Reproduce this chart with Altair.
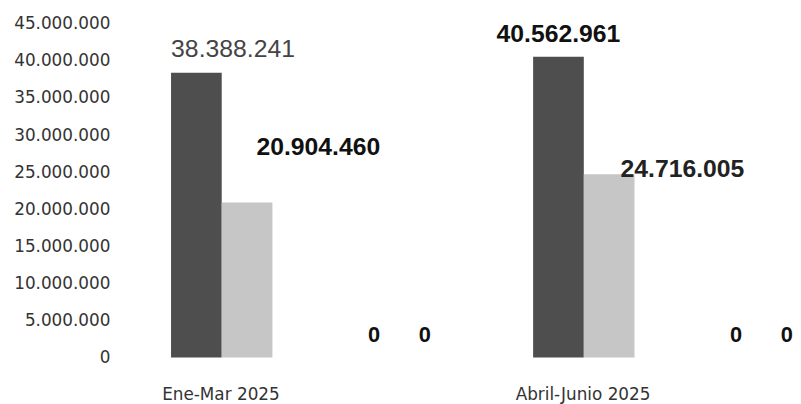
import altair as alt
import pandas as pd

periodos = ["Ene-Mar 2025", "Abril-Junio 2025"]
series = ["Serie 1", "Serie 2", "Serie 3", "Serie 4"]
valores_ene_mar = [38388241, 20904460, 0, 0]
valores_abr_jun = [40562961, 24716005, 0, 0]
y_ticks = [0, 5000000, 10000000, 15000000, 20000000, 25000000,
           30000000, 35000000, 40000000, 45000000]

rows = []
for p, vals in zip(periodos, [valores_ene_mar, valores_abr_jun]):
    for s, v in zip(series, vals):
        rows.append({"periodo": p, "serie": s, "valor": v})
df = pd.DataFrame(rows)

fmt = "join(split(format(datum.valor, ',d'), ','), '.')"

x_enc = alt.X(
    "periodo:N", sort=periodos,
    scale=alt.Scale(paddingInner=0.44, paddingOuter=0.155),
    axis=alt.Axis(title=None, labelAngle=0, domain=False, ticks=False,
                  labelOffset=-52, labelFont="DejaVu Sans", labelFontSize=17,
                  labelColor="#333333", labelPadding=29),
)
xo_enc = alt.XOffset("serie:N", sort=series,
                     scale=alt.Scale(paddingInner=0, paddingOuter=0))
y_enc = alt.Y(
    "valor:Q",
    scale=alt.Scale(domain=[0, 45000000], nice=False),
    axis=alt.Axis(title=None, values=y_ticks, grid=False, domain=False,
                  ticks=False, labelPadding=5, labelFont="DejaVu Sans",
                  labelFontSize=17, labelColor="#333333",
                  labelExpr="join(split(format(datum.value, ',d'), ','), '.')"),
)

base = alt.Chart(df).transform_calculate(label=fmt).encode(
    x=x_enc, xOffset=xo_enc, y=y_enc
)

bars = base.mark_bar().encode(
    color=alt.Color("serie:N", sort=series, legend=None,
                    scale=alt.Scale(domain=series,
                                    range=["#4e4e4e", "#c6c6c6", "#999999", "#777777"]))
)


def lab(periodo, serie, dx, dy, weight, color, size=25):
    return base.transform_filter(
        (alt.datum.periodo == periodo) & (alt.datum.serie == serie)
    ).mark_text(dx=dx, dy=dy, font="Liberation Sans", fontSize=size,
                fontWeight=weight, color=color, baseline="middle",
                align="center").encode(text="label:N")


l1 = lab("Ene-Mar 2025", "Serie 1", 37, -24, "normal", "#444444")
l2 = lab("Abril-Junio 2025", "Serie 1", 0, -23, "bold", "#111111")
l3 = lab("Ene-Mar 2025", "Serie 2", 72, -56, "bold", "#111111")
l4 = lab("Abril-Junio 2025", "Serie 2", 74, -5, "bold", "#222222")

zeros = base.transform_filter(
    (alt.datum.serie == "Serie 3") | (alt.datum.serie == "Serie 4")
).mark_text(dx=77, dy=-23, font="Liberation Sans", fontSize=22,
            fontWeight="bold", color="#111111", baseline="middle",
            align="center").encode(text="label:N")

chart = alt.layer(bars, l1, l2, l3, l4, zeros).properties(
    width=684, height=337, background="white",
    padding={"left": 5, "top": 5, "right": 0, "bottom": 0},
).configure_view(stroke=None)

chart.save("out.html", embed_options={"renderer": "svg", "actions": False})
